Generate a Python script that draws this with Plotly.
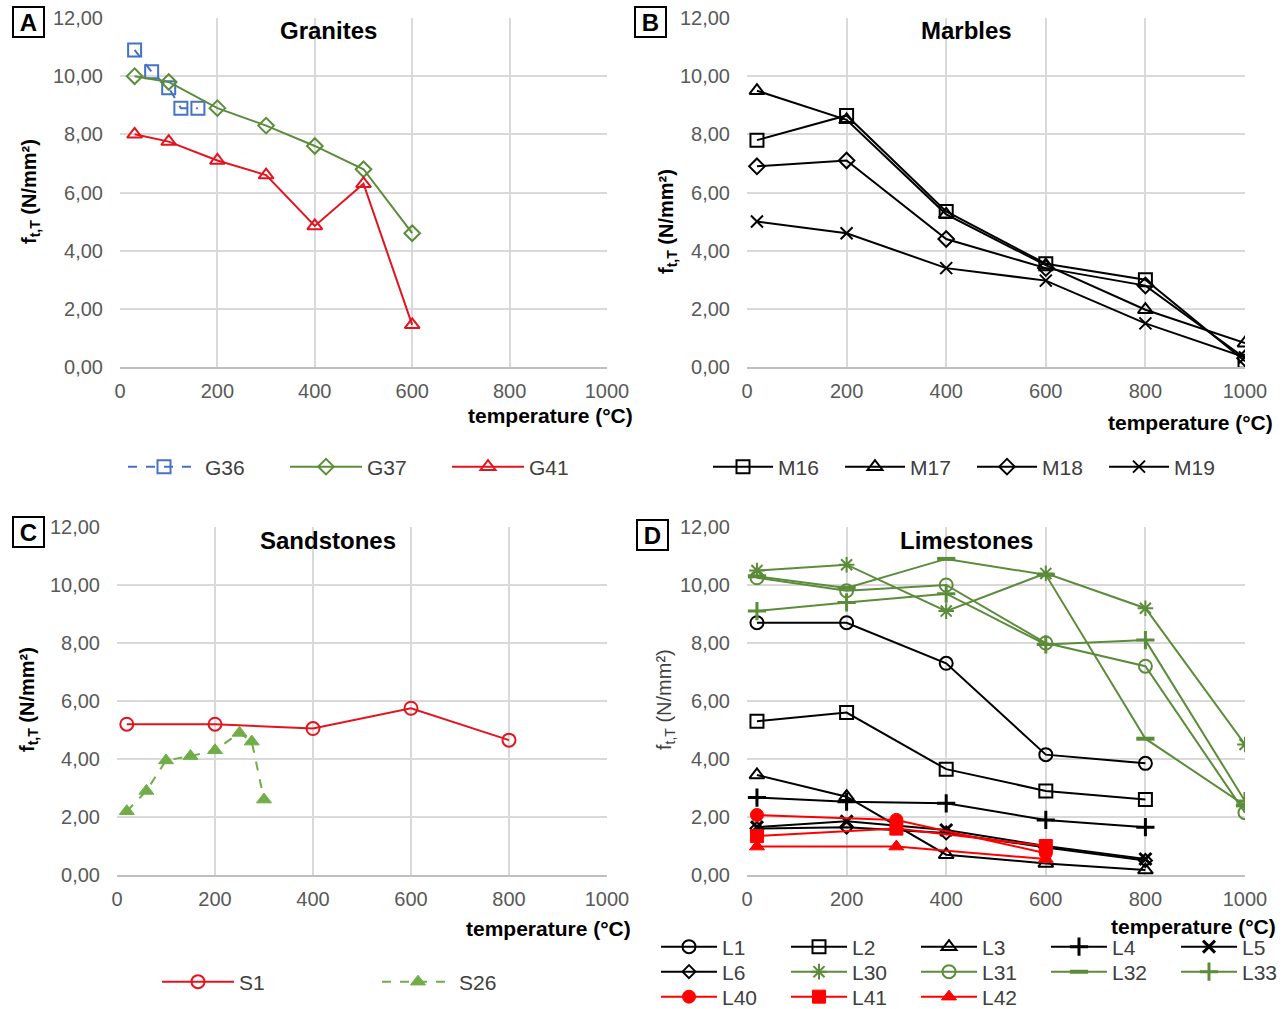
import plotly.graph_objects as go

# ---------------- data ----------------
# Panel A - Granites
g36_temp = [30, 65, 100, 125, 160]
g36_val = [10.9, 10.15, 9.6, 8.9, 8.9]
gran_temp = [30, 100, 200, 300, 400, 500, 600]
g37_val = [10.0, 9.8, 8.9, 8.3, 7.6, 6.8, 4.6]
g41_val = [8.0, 7.75, 7.1, 6.6, 4.85, 6.3, 1.45]

# Panel B - Marbles
marb_temp = [20, 200, 400, 600, 800, 1000]
m16_val = [7.8, 8.65, 5.35, 3.55, 3.0, 0.2]
m17_val = [9.5, 8.5, 5.25, 3.5, 1.97, 0.82]
m18_val = [6.9, 7.1, 4.4, 3.4, 2.8, 0.3]
m19_val = [5.0, 4.6, 3.4, 2.97, 1.5, 0.33]

# Panel C - Sandstones
s1_temp = [20, 200, 400, 600, 800]
s1_val = [5.2, 5.2, 5.05, 5.75, 4.65]
s26_temp = [20, 60, 100, 150, 200, 250, 275, 300]
s26_val = [2.2, 2.9, 3.95, 4.1, 4.3, 4.9, 4.6, 2.6]

# Panel D - Limestones
lime_temp = [20, 200, 400, 600, 800]
l1_val = [8.7, 8.7, 7.3, 4.15, 3.85]
l2_val = [5.3, 5.6, 3.65, 2.9, 2.6]
l3_val = [3.45, 2.7, 0.7, 0.4, 0.17]
l4_val = [2.67, 2.53, 2.47, 1.9, 1.65]
l5_val = [1.65, 1.85, 1.55, 1.0, 0.55]
l6_val = [1.6, 1.65, 1.45, 0.95, 0.5]
green_temp = [20, 200, 400, 600, 800, 1000]
l30_val = [10.5, 10.7, 9.1, 10.4, 9.2, 4.5]
l31_val = [10.25, 9.8, 10.0, 8.0, 7.2, 2.15]
l32_val = [10.3, 9.9, 10.9, 10.35, 4.7, 2.4]
l33_val = [9.1, 9.4, 9.7, 7.95, 8.1, 2.55]
red_temp = [20, 300, 600]
l40_val = [2.07, 1.9, 0.75]
l41_val = [1.34, 1.6, 1.0]
l42_val = [0.98, 0.98, 0.55]

y_ticks = [0, 2, 4, 6, 8, 10, 12]
x_ticks = [0, 200, 400, 600, 800, 1000]

# ---------------- style ----------------
FONT = "Liberation Sans, Arial, sans-serif"
BLUE = "#4472C4"
GREEN = "#5B8C3A"
LGREEN = "#70AD47"
RED = "#E3141E"
DRED = "#FF0000"
BLACK = "#000000"
GRID = "#D9D9D9"
TICKC = "#595959"
TEXTC = "#404040"

W, H = 1287, 1009


def px(x):
    return x / W


def py(y):
    return 1 - y / H


fig = go.Figure()


def add(x, y, name, color, symbol, axis, legend, size=12, dash="solid",
        filled=False, mlw=2, lw=2):
    fig.add_trace(go.Scatter(
        x=x, y=y, name=name, mode="lines+markers",
        xaxis="x" + axis, yaxis="y" + axis, legend=legend,
        line=dict(color=color, width=lw, dash=dash),
        marker=dict(symbol=symbol, size=size,
                    color=color if filled else "rgba(255,255,255,0)",
                    line=dict(color=color, width=mlw)),
    ))


# A
add(g36_temp, g36_val, "G36", BLUE, "square", "", "legend", size=13, dash="dash")
add(gran_temp, g37_val, "G37", GREEN, "diamond", "", "legend", size=12)
add(gran_temp, g41_val, "G41", RED, "triangle-up", "", "legend", size=13)
# B
add(marb_temp, m16_val, "M16", BLACK, "square", "2", "legend2", size=13)
add(marb_temp, m17_val, "M17", BLACK, "triangle-up", "2", "legend2", size=13)
add(marb_temp, m18_val, "M18", BLACK, "diamond", "2", "legend2", size=12)
add(marb_temp, m19_val, "M19", BLACK, "x-thin", "2", "legend2", size=12)
# C
add(s1_temp, s1_val, "S1", RED, "circle", "3", "legend3", size=13)
add(s26_temp, s26_val, "S26", LGREEN, "triangle-up", "3", "legend3", size=13,
    dash="dash", filled=True, mlw=1)
# D
add(lime_temp, l1_val, "L1", BLACK, "circle", "4", "legend4", size=13)
add(lime_temp, l2_val, "L2", BLACK, "square", "4", "legend4", size=13)
add(lime_temp, l3_val, "L3", BLACK, "triangle-up", "4", "legend4", size=13)
add(lime_temp, l4_val, "L4", BLACK, "cross-thin", "4", "legend4", size=13, mlw=3)
add(lime_temp, l5_val, "L5", BLACK, "x-thin", "4", "legend4", size=12, mlw=3)
add(lime_temp, l6_val, "L6", BLACK, "diamond", "4", "legend5", size=10)
add(green_temp, l30_val, "L30", GREEN, "asterisk", "4", "legend5", size=13, mlw=2)
add(green_temp, l31_val, "L31", GREEN, "circle", "4", "legend5", size=13)
add(green_temp, l32_val, "L32", GREEN, "line-ew", "4", "legend5", size=13, mlw=4)
add(green_temp, l33_val, "L33", GREEN, "cross-thin", "4", "legend5", size=13, mlw=3)
add(red_temp, l40_val, "L40", DRED, "circle", "4", "legend6", size=13, filled=True, mlw=1)
add(red_temp, l41_val, "L41", DRED, "square", "4", "legend6", size=13, filled=True, mlw=1)
add(red_temp, l42_val, "L42", DRED, "triangle-up", "4", "legend6", size=13, filled=True, mlw=1)

# ---------------- axes ----------------
panels = {
    "": dict(x=(120, 607), y=(18, 367)),
    "2": dict(x=(747, 1245), y=(18, 367)),
    "3": dict(x=(117, 607), y=(527, 875)),
    "4": dict(x=(747, 1245), y=(527, 875)),
}
layout = dict(
    width=W, height=H,
    margin=dict(l=0, r=0, t=0, b=0, pad=0, autoexpand=False),
    paper_bgcolor="white", plot_bgcolor="white",
    font=dict(family=FONT, size=20, color=TEXTC),
    showlegend=True,
)
for k, p in panels.items():
    layout["xaxis" + k] = dict(
        domain=[px(p["x"][0]), px(p["x"][1])], range=[0, 1000],
        anchor="y" + k, tickvals=x_ticks, ticktext=[str(v) for v in x_ticks],
        showgrid=True, gridcolor=GRID, gridwidth=2, zeroline=False,
        showline=True, linecolor="#BFBFBF", linewidth=2, ticks="",
        ticklabelstandoff=5, tickfont=dict(size=20, color=TICKC),
        fixedrange=True, automargin=False,
    )
    layout["yaxis" + k] = dict(
        domain=[py(p["y"][1]), py(p["y"][0])], range=[0, 12],
        anchor="x" + k, tickvals=y_ticks,
        ticktext=[f"{v},00" for v in y_ticks],
        showgrid=True, gridcolor=GRID, gridwidth=2, zeroline=False,
        showline=False, ticks="", ticklabelstandoff=16,
        tickfont=dict(size=20, color=TICKC), fixedrange=True,
        automargin=False,
    )

# ---------------- legends ----------------
def leg(x, y, iw, entry):
    return dict(x=px(x), y=py(y), xanchor="left", yanchor="middle",
                orientation="h", font=dict(size=21, color=TEXTC),
                bgcolor="rgba(0,0,0,0)", itemwidth=iw, entrywidth=entry,
                entrywidthmode="pixels", tracegroupgap=0, itemclick=False)

layout["legend"] = leg(123, 467, 72, 75)
layout["legend2"] = leg(708, 467, 60, 57)
layout["legend3"] = leg(157, 982, 72, 133)
layout["legend4"] = leg(656, 947, 56, 59)
layout["legend5"] = leg(656, 972, 56, 59)
layout["legend6"] = leg(656, 997, 56, 59)

# ---------------- annotations ----------------
ann = []


def text(t, x, y, size, color="#000000", angle=0, **kw):
    d = dict(text=t, x=px(x), y=py(y), xref="paper", yref="paper",
             xanchor="center", yanchor="middle", showarrow=False,
             textangle=angle, font=dict(size=size, color=color, family=FONT))
    d.update(kw)
    ann.append(d)


titles = [("Granites", 328, 31), ("Marbles", 966, 31),
          ("Sandstones", 328, 540), ("Limestones", 966, 540)]
for t, x, y in titles:
    text(f"<b>{t}</b>", x, y, 24)

letters = [("A", 28, 22), ("B", 650, 22), ("C", 28, 532), ("D", 653, 535)]
for t, x, y in letters:
    text(f"<b>{t}</b>", x, y, 24, bordercolor="#000000", borderwidth=2,
         borderpad=1, bgcolor="white", width=27, height=26,
         align="center", valign="middle")

xt = [(550, 415), (1190, 422), (548, 928), (1193, 926)]
for x, y in xt:
    text("<b>temperature (°C)</b>", x, y, 21)

yt = [(30, 192, True), (668, 222, True), (28, 700, True), (665, 700, False)]
for x, y, b in yt:
    t = "f<sub>t,T</sub> (N/mm²)"
    if b:
        text(f"<b>{t}</b>", x, y, 20, angle=-90)
    else:
        text(t, x, y, 20, color=TEXTC, angle=-90)

layout["annotations"] = ann

fig.update_layout(**layout)
fig.write_html(
    "out.html",
    config={"displayModeBar": False},
    post_script="document.body.style.margin='0';document.body.style.padding='0';",
)
